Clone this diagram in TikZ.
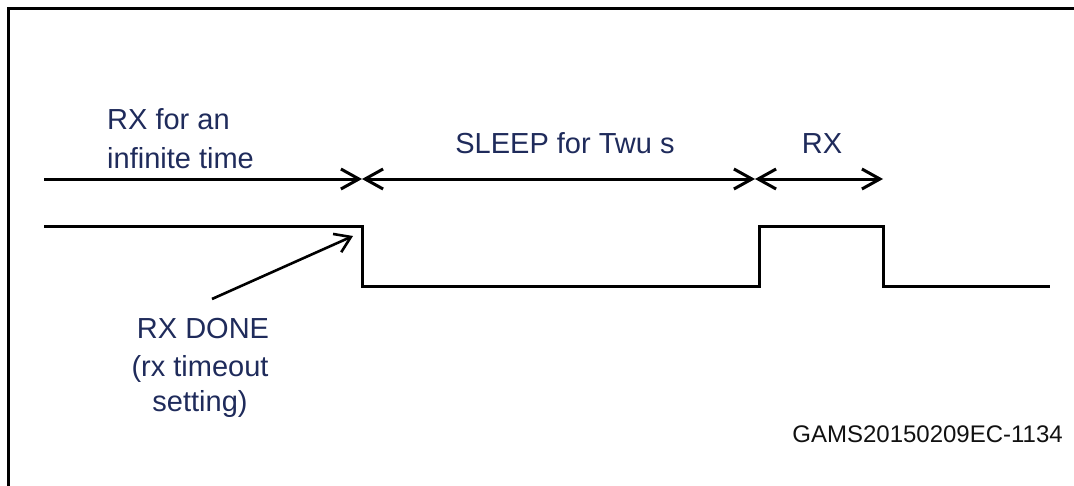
\documentclass[tikz,border=0pt]{standalone}
\usepackage{fontspec}
\setmainfont{Liberation Sans}
\usetikzlibrary{arrows.meta}
\definecolor{navytext}{HTML}{1F2B5B}
\definecolor{idtext}{HTML}{111111}
\begin{document}
\begin{tikzpicture}[x=1pt,y=-1pt,
  lbl/.style={inner sep=0pt, text=navytext, font=\fontsize{29}{38}\selectfont},
  idlbl/.style={inner sep=0pt, text=idtext, font=\fontsize{24}{30}\selectfont},
  wire/.style={line width=3pt, black},
  span/.style={line width=3pt, black, arrows={Straight Barb[length=18pt,width=20pt]-Straight Barb[length=18pt,width=20pt]}},
  pointer/.style={line width=2.6pt, black, -{Straight Barb[length=15pt,width=20pt]}}
]
\useasboundingbox (0,0) rectangle (1074,485);
% frame (clipped by picture edge)
\draw[line width=3pt] (8.3,490) -- (8.3,8) -- (1080,8);

% time spans
\coordinate (t0) at (44,179);
\coordinate (t1) at (362,179);
\coordinate (t2) at (755,179);
\coordinate (t3) at (883,179);
\draw[line width=3pt, -{Straight Barb[length=18pt,width=20pt]}] (t0) -- (t1);
\draw[span] (t1) -- (t2);
\draw[span] (t2) -- (t3);

% waveform
\coordinate (w0) at (44,226.5);
\coordinate (w1) at (362,226.5);
\coordinate (w2) at (362,286.5);
\coordinate (w3) at (759,286.5);
\coordinate (w4) at (759,226.5);
\coordinate (w5) at (883,226.5);
\coordinate (w6) at (883,286.5);
\coordinate (w7) at (1050,286.5);
\draw[wire, line join=miter] (w0) -- (w1) -- (w2) -- (w3) -- (w4) -- (w5) -- (w6) -- (w7);

% labels
\node[lbl, anchor=base west] (rxa) at (107,129.3) {RX for an};
\node[lbl, anchor=base west] (rxb) at (107,168) {infinite time};
\node[lbl, anchor=base] (sleep) at (565,153) {SLEEP for Twu s};
\node[lbl, anchor=base] (rx2) at (822,153) {RX};
\node[lbl, anchor=base] (done1) at (203,338) {RX DONE};
\node[lbl, anchor=base] (done2) at (200,376) {(rx timeout};
\node[lbl, anchor=base] (done3) at (200,411) {setting)};
\node[idlbl, anchor=base east] (gams) at (1063,442) {GAMS20150209EC-1134};

% pointer
\coordinate (p0) at (212,299);
\coordinate (p1) at (353,236);
\draw[pointer] (p0) -- (p1);
\end{tikzpicture}
\end{document}
